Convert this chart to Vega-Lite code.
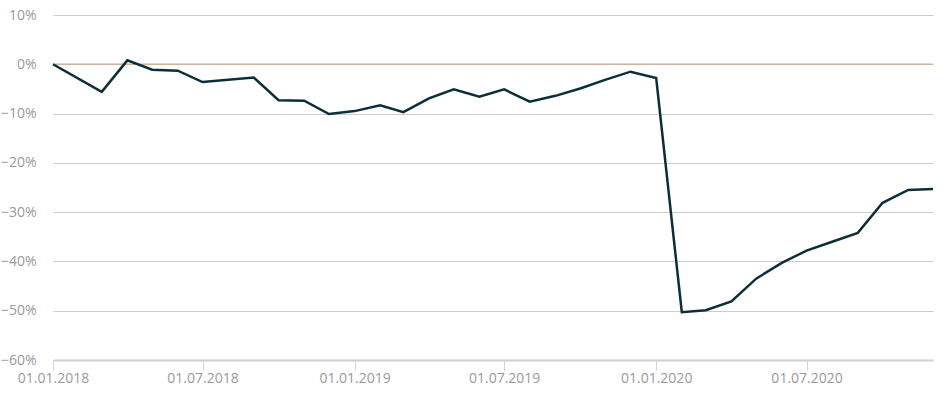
{
  "$schema": "https://vega.github.io/schema/vega-lite/v6.json",
  "width": 880,
  "height": 345,
  "autosize": {"type": "none"},
  "padding": {"left": 53, "top": 15, "right": 16, "bottom": 34},
  "background": "#ffffff",
  "config": {
    "view": {"stroke": null},
    "axis": {"labelFont": "Open Sans", "labelFontSize": 14, "labelColor": "#9a9a9a"}
  },
  "layer": [
    {
      "data": {"values": [{"y": 0}]},
      "mark": {"type": "rule", "color": "#cdb49a", "strokeWidth": 1.5},
      "encoding": {
        "y": {"field": "y", "type": "quantitative", "scale": {"domain": [-0.6, 0.1]}}
      }
    },
    {
      "data": {
        "values": [
          {"date": "2018-01-01", "value": 0.0},
          {"date": "2018-03-01", "value": -0.056},
          {"date": "2018-04-01", "value": 0.008},
          {"date": "2018-05-01", "value": -0.011},
          {"date": "2018-06-01", "value": -0.013},
          {"date": "2018-07-01", "value": -0.036},
          {"date": "2018-09-01", "value": -0.027},
          {"date": "2018-10-01", "value": -0.073},
          {"date": "2018-11-01", "value": -0.074},
          {"date": "2018-12-01", "value": -0.101},
          {"date": "2019-01-01", "value": -0.095},
          {"date": "2019-02-01", "value": -0.083},
          {"date": "2019-03-01", "value": -0.097},
          {"date": "2019-04-01", "value": -0.069},
          {"date": "2019-05-01", "value": -0.051},
          {"date": "2019-06-01", "value": -0.066},
          {"date": "2019-07-01", "value": -0.051},
          {"date": "2019-08-01", "value": -0.076},
          {"date": "2019-09-01", "value": -0.064},
          {"date": "2019-10-01", "value": -0.049},
          {"date": "2019-11-01", "value": -0.031},
          {"date": "2019-12-01", "value": -0.015},
          {"date": "2020-01-01", "value": -0.028},
          {"date": "2020-02-01", "value": -0.503},
          {"date": "2020-03-01", "value": -0.499},
          {"date": "2020-04-01", "value": -0.481},
          {"date": "2020-05-01", "value": -0.435},
          {"date": "2020-06-01", "value": -0.403},
          {"date": "2020-07-01", "value": -0.378},
          {"date": "2020-08-01", "value": -0.360},
          {"date": "2020-09-01", "value": -0.342},
          {"date": "2020-10-01", "value": -0.281},
          {"date": "2020-11-01", "value": -0.255},
          {"date": "2020-12-01", "value": -0.253}
        ]
      },
      "mark": {"type": "line", "color": "#0c2e39", "strokeWidth": 2.5, "strokeJoin": "miter"},
      "encoding": {
        "x": {
          "field": "date",
          "type": "temporal",
          "scale": {
            "type": "utc",
            "domain": [
              {"year": 2018, "month": 1, "date": 1, "utc": true},
              {"year": 2020, "month": 12, "date": 1, "utc": true}
            ]
          },
          "axis": {
            "title": null,
            "format": "%d.%m.%Y",
            "values": [
              {"year": 2018, "month": 1, "date": 1, "utc": true},
              {"year": 2018, "month": 7, "date": 1, "utc": true},
              {"year": 2019, "month": 1, "date": 1, "utc": true},
              {"year": 2019, "month": 7, "date": 1, "utc": true},
              {"year": 2020, "month": 1, "date": 1, "utc": true},
              {"year": 2020, "month": 7, "date": 1, "utc": true}
            ],
            "grid": false,
            "domainColor": "#cfcfcf",
            "domainWidth": 2,
            "tickColor": "#d5d5d5",
            "tickSize": 10,
            "tickWidth": 1,
            "labelPadding": 1,
            "labelFlush": false,
            "labelOverlap": false
          }
        },
        "y": {
          "field": "value",
          "type": "quantitative",
          "scale": {"domain": [-0.6, 0.1], "nice": false},
          "axis": {
            "title": null,
            "format": ".0%",
            "values": [-0.6, -0.5, -0.4, -0.3, -0.2, -0.1, 0, 0.1],
            "domain": false,
            "ticks": false,
            "grid": true,
            "gridColor": "#cccccc",
            "gridWidth": 1,
            "labelPadding": 17,
            "labelFlush": false
          }
        }
      }
    }
  ]
}
